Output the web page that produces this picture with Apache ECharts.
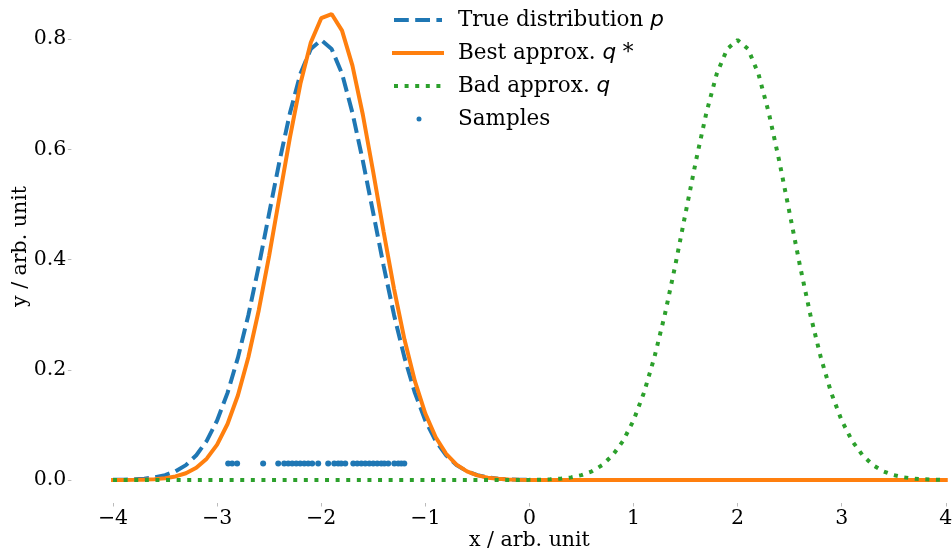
<!DOCTYPE html>
<html>
<head>
<meta charset="utf-8">
<script src="https://cdn.jsdelivr.net/npm/echarts@6/dist/echarts.min.js"></script>
<style>
  html, body { margin: 0; padding: 0; background: #fff; }
  #chart { width: 952px; height: 549px; }
</style>
</head>
<body>
<div id="chart"></div>
<script>
// x grid shared by the three curves
const xs = [
  -4.0, -3.9, -3.8, -3.7, -3.6, -3.5, -3.4, -3.3, -3.2, -3.1,
  -3.0, -2.9, -2.8, -2.7, -2.6, -2.5, -2.4, -2.3, -2.2, -2.1,
  -2.0, -1.9, -1.8, -1.7, -1.6, -1.5, -1.4, -1.3, -1.2, -1.1,
  -1.0, -0.9, -0.8, -0.7, -0.6, -0.5, -0.4, -0.3, -0.2, -0.1,
  0.0, 0.1, 0.2, 0.3, 0.4, 0.5, 0.6, 0.7, 0.8, 0.9,
  1.0, 1.1, 1.2, 1.3, 1.4, 1.5, 1.6, 1.7, 1.8, 1.9,
  2.0, 2.1, 2.2, 2.3, 2.4, 2.5, 2.6, 2.7, 2.8, 2.9,
  3.0, 3.1, 3.2, 3.3, 3.4, 3.5, 3.6, 3.7, 3.8, 3.9,
  4.0
];

const trueP = [
  0.0003, 0.0006, 0.0012, 0.0025, 0.0048, 0.0089, 0.0158, 0.027, 0.045, 0.071,
  0.108, 0.158, 0.222, 0.299, 0.388, 0.484, 0.579, 0.666, 0.737, 0.782,
  0.798, 0.782, 0.737, 0.666, 0.579, 0.484, 0.388, 0.299, 0.222, 0.158,
  0.108, 0.071, 0.045, 0.027, 0.0158, 0.0089, 0.0048, 0.0025, 0.0012, 0.0006,
  0.0003, 0.0001, 0, 0, 0, 0, 0, 0, 0, 0,
  0, 0, 0, 0, 0, 0, 0, 0, 0, 0,
  0, 0, 0, 0, 0, 0, 0, 0, 0, 0,
  0, 0, 0, 0, 0, 0, 0, 0, 0, 0,
  0
];

const bestQ = [
  0.0001, 0.0001, 0.0003, 0.0007, 0.0016, 0.0033, 0.0065, 0.0123, 0.0223, 0.0387,
  0.0641, 0.1016, 0.1538, 0.2226, 0.308, 0.4072, 0.5148, 0.6221, 0.7187, 0.7936,
  0.8377, 0.8453, 0.8153, 0.7518, 0.6626, 0.5583, 0.4497, 0.3463, 0.2548, 0.1793,
  0.1206, 0.0775, 0.0476, 0.028, 0.0157, 0.0084, 0.0043, 0.0021, 0.001, 0.0004,
  0.0002, 0.0001, 0, 0, 0, 0, 0, 0, 0, 0,
  0, 0, 0, 0, 0, 0, 0, 0, 0, 0,
  0, 0, 0, 0, 0, 0, 0, 0, 0, 0,
  0, 0, 0, 0, 0, 0, 0, 0, 0, 0,
  0
];

const badQ = [
  0, 0, 0, 0, 0, 0, 0, 0, 0, 0,
  0, 0, 0, 0, 0, 0, 0, 0, 0, 0,
  0, 0, 0, 0, 0, 0, 0, 0, 0, 0,
  0, 0, 0, 0, 0, 0, 0, 0, 0, 0.0001,
  0.0003, 0.0006, 0.0012, 0.0025, 0.0048, 0.0089, 0.0158, 0.027, 0.045, 0.071,
  0.108, 0.158, 0.222, 0.299, 0.388, 0.484, 0.579, 0.666, 0.737, 0.782,
  0.798, 0.782, 0.737, 0.666, 0.579, 0.484, 0.388, 0.299, 0.222, 0.158,
  0.108, 0.071, 0.045, 0.027, 0.0158, 0.0089, 0.0048, 0.0025, 0.0012, 0.0006,
  0.0003
];

const sampleXs = [
  -2.894, -2.856, -2.808, -2.558, -2.413, -2.356, -2.317, -2.279, -2.240, -2.202,
  -2.163, -2.125, -2.087, -2.029, -1.933, -1.875, -1.837, -1.808, -1.769, -1.692,
  -1.654, -1.615, -1.577, -1.538, -1.500, -1.462, -1.423, -1.394, -1.356, -1.298,
  -1.260, -1.231, -1.202
];
const sampleLevel = 0.03;

const xTicks = [-4, -3, -2, -1, 0, 1, 2, 3, 4];
const yTicks = [0, 0.2, 0.4, 0.6, 0.8];

const seriesNames = ['True distribution p', 'Best approx. q*', 'Bad approx. q', 'Samples'];

const BLUE = '#1f77b4';
const ORANGE = '#ff7f0e';
const GREEN = '#2ca02c';
const SERIF = 'DejaVu Serif';
const FS = 20.5;

const pairs = (ys) => xs.map((x, i) => [x, ys[i]]);

const chart = echarts.init(document.getElementById('chart'), null, { renderer: 'canvas' });

// line items: hide the circle ECharts puts in the middle of a line legend icon
const lineLegendItem = (name) => ({ name, itemStyle: { opacity: 0 }, lineStyle: { width: 4 } });

chart.setOption({
  animation: false,
  backgroundColor: '#fff',
  grid: { left: 71.4, right: -35.4, top: -10, bottom: 46, outerBoundsMode: 'none' },
  legend: {
    orient: 'vertical',
    left: 392,
    top: 9,
    padding: 0,
    itemWidth: 48,
    itemHeight: 22,
    itemGap: 11,
    data: [
      lineLegendItem(seriesNames[0]),
      lineLegendItem(seriesNames[1]),
      lineLegendItem(seriesNames[2]),
      {
        name: seriesNames[3],
        icon: 'path://M0,0M48,22M22.5,11a2.5,2.5 0 1,0 5,0a2.5,2.5 0 1,0 -5,0Z',
        itemStyle: { color: BLUE, opacity: 1 }
      }
    ],
    formatter: (name) => {
      if (name === seriesNames[0]) return '{t|True distribution }{m|p}';
      if (name === seriesNames[1]) return '{t|Best approx. }{m|q}{t| *}';
      if (name === seriesNames[2]) return '{t|Bad approx. }{m|q}';
      return '{t|Samples}';
    },
    textStyle: {
      padding: [0, 0, 0, 11],
      rich: {
        t: { fontFamily: SERIF, fontSize: 21.5, lineHeight: 22, color: '#000' },
        m: { fontFamily: 'DejaVu Sans', fontStyle: 'italic', fontSize: 21.5, lineHeight: 22, color: '#000' }
      }
    }
  },
  xAxis: {
    type: 'value',
    min: -4.4,
    max: 4.4,
    name: 'x / arb. unit',
    nameLocation: 'middle',
    nameGap: 27,
    nameMoveOverlap: false,
    nameTextStyle: { fontFamily: SERIF, fontSize: FS, color: '#000' },
    axisLine: { show: false, onZero: false },
    splitLine: { show: false },
    axisTick: { show: true, customValues: xTicks, length: 3.5, lineStyle: { color: '#bbb', width: 1 } },
    axisLabel: {
      customValues: xTicks,
      margin: 5,
      fontFamily: SERIF,
      fontSize: FS,
      color: '#000',
      formatter: (v) => (v < 0 ? '\u2212' + Math.abs(v) : String(v))
    }
  },
  yAxis: {
    type: 'value',
    min: -0.0417,
    max: 0.8889,
    name: 'y / arb. unit',
    nameLocation: 'middle',
    nameGap: 40,
    nameRotate: 90,
    nameMoveOverlap: false,
    nameTextStyle: { fontFamily: SERIF, fontSize: FS, color: '#000' },
    axisLine: { show: false, onZero: false },
    splitLine: { show: false },
    axisTick: { show: true, customValues: yTicks, length: 3.5, lineStyle: { color: '#bbb', width: 1 } },
    axisLabel: {
      customValues: yTicks,
      margin: 5,
      fontFamily: SERIF,
      fontSize: FS,
      color: '#000',
      formatter: (v) => v.toFixed(1)
    }
  },
  series: [
    {
      name: seriesNames[0],
      type: 'line',
      data: pairs(trueP),
      symbol: 'none',
      color: BLUE,
      lineStyle: { color: BLUE, width: 4, type: [14.8, 6.4], cap: 'butt' }
    },
    {
      name: seriesNames[1],
      type: 'line',
      data: pairs(bestQ),
      symbol: 'none',
      color: ORANGE,
      lineStyle: { color: ORANGE, width: 4, cap: 'square' }
    },
    {
      name: seriesNames[2],
      type: 'line',
      data: pairs(badQ),
      symbol: 'none',
      color: GREEN,
      lineStyle: { color: GREEN, width: 4, type: [4, 6.6], cap: 'butt' }
    },
    {
      name: seriesNames[3],
      type: 'scatter',
      data: sampleXs.map((x) => [x, sampleLevel]),
      symbol: 'circle',
      symbolSize: 6,
      itemStyle: { color: BLUE, opacity: 1 }
    }
  ]
});
</script>
</body>
</html>
